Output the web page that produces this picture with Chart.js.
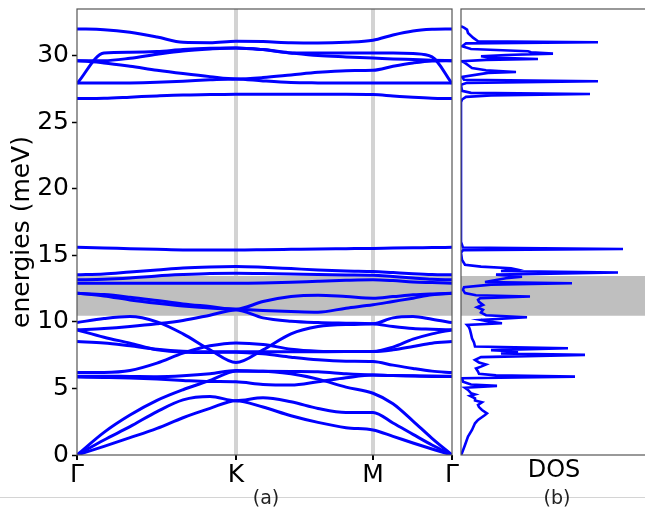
<!DOCTYPE html>
<html><head><meta charset="utf-8">
<script src="https://cdn.jsdelivr.net/npm/chart.js@4"></script>
<style>
html,body{margin:0;padding:0;background:#fff;overflow:hidden;width:645px;height:512px}
#wrap{position:relative;width:645px;height:512px;overflow:hidden;background:#fff}
#c1{position:absolute;left:0;top:0}
#c2{position:absolute;left:456px;top:0}
.sep{position:absolute;left:0;top:497px;width:645px;height:1px;background:#d4d4d4}
.lab{position:absolute;top:486px;line-height:22px;font-family:"DejaVu Sans";font-size:19px;color:#222;transform:translateX(-50%);white-space:nowrap}
</style></head>
<body><div id="wrap">
<div class="sep"></div>
<canvas id="c2" width="196" height="512"></canvas>
<canvas id="c1" width="466" height="512"></canvas>
<div class="lab" style="left:266px">(a)</div>
<div class="lab" style="left:557px">(b)</div>
</div>
<script>
// ---- k-path ----
const kpts = [0, 0.27, 0.53, 0.80, 1.06, 1.33, 1.59, 1.86, 2.14, 2.41, 2.69, 2.96, 3.16, 3.36, 3.55, 3.75];
const kTicks = [0, 1.59, 2.96, 3.75];
const kLabels = ['Γ', 'K', 'M', 'Γ'];
const yTicks = [0, 5, 10, 15, 20, 25, 30];
const gapLow = 10.45;
const gapHigh = 13.45;

// ---- bands (meV) ----
const b1 = [0, 0.65, 1.3, 2.0, 2.8, 3.5, 4.08, 3.6, 2.95, 2.45, 2.05, 1.88, 1.4, 0.9, 0.45, 0];
const b2 = [0, 1.13, 2.13, 3.26, 4.14, 4.39, 4.08, 4.3, 4.0, 3.5, 3.2, 3.2, 2.4, 1.55, 0.75, 0];
const b3 = [0, 1.7, 3.0, 4.1, 4.9, 5.6, 6.3, 6.3, 6.1, 5.7, 5.1, 4.64, 3.85, 2.55, 1.25, 0];
const b4 = [5.85, 5.82, 5.78, 5.7, 5.6, 5.52, 5.5, 5.3, 5.25, 5.5, 5.8, 6.0, 5.97, 5.93, 5.9, 5.89];
const b5 = [5.92, 5.92, 5.9, 5.88, 5.95, 6.1, 6.34, 6.3, 6.27, 6.25, 6.1, 6.0, 5.97, 5.95, 5.93, 5.92];
const b6 = [6.19, 6.2, 6.35, 6.9, 7.65, 8.2, 8.42, 8.3, 7.95, 7.8, 7.77, 7.77, 7.9, 8.15, 8.4, 8.52];
const b7 = [8.52, 8.42, 8.2, 7.95, 7.8, 7.75, 7.75, 7.75, 7.75, 7.76, 7.77, 7.77, 8.1, 8.7, 9.1, 9.4];
const b8 = [9.4, 8.85, 8.4, 7.9, 7.72, 7.7, 7.72, 7.6, 7.35, 7.15, 7.05, 7.02, 6.75, 6.5, 6.3, 6.19];
const b9 = [9.95, 10.25, 10.4, 10.0, 9.1, 7.9, 6.94, 7.9, 9.1, 9.65, 9.8, 9.85, 10.3, 10.4, 10.2, 9.95];
const b10 = [9.4, 9.5, 9.65, 9.85, 10.1, 10.5, 10.9, 10.3, 10.05, 9.95, 9.9, 9.85, 9.65, 9.5, 9.45, 9.4];
const u1 = [15.6, 15.55, 15.5, 15.45, 15.4, 15.4, 15.4, 15.42, 15.45, 15.48, 15.5, 15.52, 15.55, 15.57, 15.58, 15.6];
const u2 = [13.53, 13.6, 13.75, 13.9, 14.05, 14.13, 14.16, 14.1, 14.0, 13.9, 13.82, 13.78, 13.7, 13.62, 13.56, 13.53];
const u3 = [13.16, 13.2, 13.3, 13.45, 13.55, 13.63, 13.66, 13.64, 13.6, 13.55, 13.52, 13.5, 13.4, 13.3, 13.2, 13.16];
const u4 = [12.9, 12.9, 12.9, 12.9, 12.9, 12.9, 12.9, 12.92, 12.97, 13.05, 13.12, 13.16, 13.1, 13.0, 12.95, 12.9];
const u5 = [12.15, 12.05, 11.85, 11.6, 11.35, 11.15, 10.95, 11.53, 11.9, 12.0, 11.9, 11.78, 11.9, 12.03, 12.1, 12.15];
const u6 = [12.15, 11.95, 11.65, 11.4, 11.2, 11.05, 10.95, 10.85, 10.78, 10.73, 11.03, 11.28, 11.53, 11.78, 12.03, 12.15];
const t1 = [32.0, 31.95, 31.75, 31.4, 31.0, 30.97, 31.08, 31.05, 30.97, 30.95, 31.0, 31.15, 31.55, 31.85, 31.97, 32.0];
const t2 = [27.9, 30.2, 30.25, 30.3, 30.45, 30.55, 30.58, 30.45, 30.2, 30.2, 30.2, 30.2, 30.2, 30.15, 29.9, 27.9];
const t3 = [29.62, 29.62, 29.8, 30.1, 30.35, 30.5, 30.58, 30.45, 30.2, 30.0, 29.9, 29.82, 29.75, 29.7, 29.65, 29.62];
const t4 = [29.62, 29.45, 29.2, 28.9, 28.65, 28.42, 28.25, 28.35, 28.55, 28.75, 28.87, 28.9, 29.2, 29.45, 29.6, 29.62];
const t5 = [27.94, 27.94, 27.95, 28.0, 28.08, 28.18, 28.25, 28.1, 27.98, 27.95, 27.94, 27.94, 27.94, 27.94, 27.94, 27.94];
const t6 = [26.77, 26.8, 26.88, 26.97, 27.04, 27.07, 27.1, 27.1, 27.1, 27.1, 27.1, 27.07, 26.97, 26.87, 26.8, 26.77];

// ---- DOS ----
const dosE = [0.00,0.15,0.75,1.38,1.88,2.38,2.63,3.00,3.13,3.38,3.60,3.76,3.96,4.10,4.26,4.45,4.55,4.64,4.89,5.05,5.19,5.30,5.51,5.76,5.89,5.98,6.10,6.27,6.50,6.64,6.80,6.95,7.14,7.35,7.52,7.62,7.77,7.88,8.02,8.15,8.45,8.77,9.10,9.40,9.60,9.77,9.90,10.00,10.15,10.35,10.50,10.70,10.90,11.10,11.28,11.50,11.65,11.78,11.90,12.00,12.16,12.40,12.60,12.80,12.90,13.00,13.15,13.28,13.40,13.55,13.71,13.82,13.95,14.03,14.15,14.29,14.66,15.20,15.38,15.47,15.58,16.00,26.50,26.70,26.90,27.00,27.12,27.20,27.35,27.80,27.95,28.07,28.18,28.40,28.70,28.77,28.90,29.07,29.45,29.57,29.68,29.75,29.85,29.95,30.05,30.15,30.25,30.33,30.50,30.70,30.92,31.00,31.08,31.35,31.70,31.95,32.10,32.20];
const dosV = [0.00,0.01,0.04,0.07,0.11,0.14,0.17,0.24,0.26,0.21,0.18,0.17,0.21,0.14,0.14,0.09,0.14,0.10,0.07,0.04,0.36,0.10,0.02,0.01,1.14,0.35,0.18,0.17,0.15,0.20,0.25,0.18,0.14,0.20,1.24,0.40,0.57,0.30,1.07,0.14,0.13,0.11,0.10,0.09,0.08,0.06,0.41,0.30,0.20,0.66,0.25,0.20,0.22,0.16,0.22,0.18,0.17,0.19,0.69,0.15,0.04,0.02,0.03,0.30,1.11,0.24,0.35,0.45,0.61,0.35,1.57,0.40,0.55,0.50,0.20,0.04,0.01,0.00,0.02,1.62,0.02,0.00,0.00,0.01,0.05,0.30,1.29,0.10,0.01,0.00,0.06,1.37,0.03,0.01,0.27,0.55,0.25,0.11,0.04,0.01,0.25,0.77,0.30,0.20,0.45,0.92,0.70,0.67,0.10,0.01,0.05,1.37,0.17,0.12,0.07,0.06,0.03,0.00];
const dosMax = 1.86;

const bands = [b1,b2,b3,b4,b5,b6,b7,b8,b9,b10,u1,u2,u3,u4,u5,u6,t1,t2,t3,t4,t5,t6];

Chart.defaults.font.family = '"DejaVu Sans", sans-serif';
Chart.defaults.color = '#000';

const framePlugin = {
  id: 'frame',
  afterDatasetsDraw(chart) {
    const {ctx, chartArea: a} = chart;
    ctx.save();
    ctx.strokeStyle = '#555';
    ctx.lineWidth = 1.2;
    ctx.strokeRect(a.left, a.top, a.right - a.left, a.bottom - a.top);
    ctx.restore();
  }
};

const bandSets = [{
  data: [{x: kTicks[0], y: gapHigh}, {x: kTicks[3], y: gapHigh}],
  fill: {value: gapLow}, backgroundColor: '#bfbfbf', borderWidth: 0, pointRadius: 0, order: 100
}];
bands.forEach(b => bandSets.push({
  data: kpts.map((k, i) => ({x: k, y: b[i]})),
  borderColor: '#0000ff', borderWidth: 3, pointRadius: 0, fill: false,
  cubicInterpolationMode: 'monotone', order: 1
}));

new Chart(document.getElementById('c1'), {
  type: 'line',
  data: {datasets: bandSets},
  options: {
    responsive: false, animation: false,
    layout: {padding: {top: 9, right: 14, left: 0, bottom: 0}},
    plugins: {legend: {display: false}, tooltip: {enabled: false}},
    scales: {
      x: {
        type: 'linear', min: kTicks[0], max: kTicks[3],
        afterBuildTicks: s => { s.ticks = kTicks.map(v => ({value: v})); },
        ticks: {callback: (v, i) => kLabels[i], font: {size: 25}, color: '#000', padding: 0, maxRotation: 0, autoSkip: false},
        grid: {
          color: c => (c.index === 1 || c.index === 2) ? '#d3d3d3' : 'rgba(0,0,0,0)',
          lineWidth: 4, drawTicks: true, tickLength: 5, tickColor: '#000', tickWidth: 2
        },
        border: {display: false},
        afterFit: s => { s.height = 57; s.paddingLeft = 0; s.paddingRight = 0; }
      },
      y: {
        min: 0, max: 33.5,
        afterBuildTicks: s => { s.ticks = yTicks.map(v => ({value: v})); },
        ticks: {font: {size: 25}, color: '#000', padding: 3},
        grid: {drawOnChartArea: false, drawTicks: true, tickLength: 5, tickColor: '#000', tickWidth: 1.5},
        border: {display: false},
        title: {display: true, text: 'energies (meV)', font: {size: 25}, color: '#000', padding: {top: 7, bottom: 0}},
        afterFit: s => { s.width = 77; s.paddingTop = 0; s.paddingBottom = 0; }
      }
    }
  },
  plugins: [framePlugin]
});

new Chart(document.getElementById('c2'), {
  type: 'scatter',
  data: {datasets: [
    {data: [{x: 0, y: gapHigh}, {x: dosMax, y: gapHigh}], showLine: true, fill: {value: gapLow},
     backgroundColor: '#bfbfbf', borderWidth: 0, pointRadius: 0, order: 100},
    {data: dosE.map((e, i) => ({x: dosV[i], y: e})), showLine: true, borderColor: '#0000ff',
     borderWidth: 2.6, pointRadius: 0, fill: false, tension: 0, order: 1}
  ]},
  options: {
    responsive: false, animation: false,
    layout: {padding: {top: 9, right: 5, left: 5, bottom: 0}},
    plugins: {legend: {display: false}, tooltip: {enabled: false}},
    scales: {
      x: {
        type: 'linear', min: 0, max: dosMax,
        ticks: {display: false},
        grid: {display: false},
        border: {display: false},
        title: {display: true, text: 'DOS', font: {size: 24}, color: '#000', padding: {top: 0, bottom: 27}},
        afterFit: s => { s.height = 57; s.paddingLeft = 0; s.paddingRight = 0; }
      },
      y: {min: 0, max: 33.5, display: false}
    }
  },
  plugins: [framePlugin]
});
</script>
</body></html>
